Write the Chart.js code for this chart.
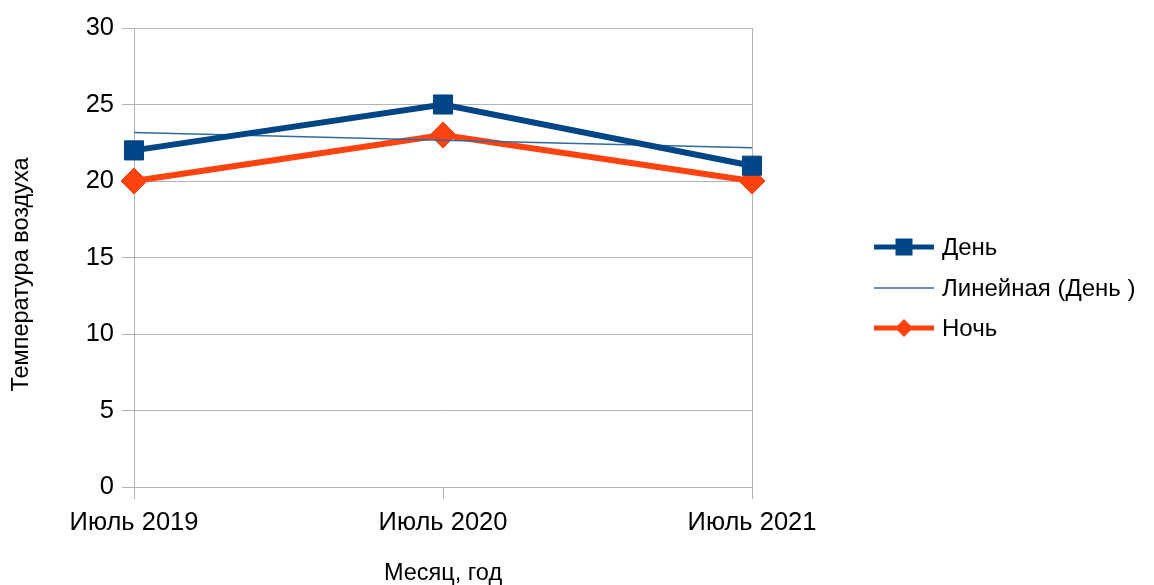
<!DOCTYPE html>
<html>
<head>
<meta charset="utf-8">
<title>Температура воздуха</title>
<script src="https://cdn.jsdelivr.net/npm/chart.js@4/dist/chart.umd.min.js"></script>
<style>
  html, body { margin: 0; padding: 0; background: #fff; }
</style>
</head>
<body>
<canvas id="myChart" width="1154" height="585"></canvas>
<script>
// Данные
const months = ['Июль 2019', 'Июль 2020', 'Июль 2021'];
const dayTemp = [22, 25, 21];
const nightTemp = [20, 23, 20];
const dayTrend = [23.17, 22.67, 22.17]; // линейная линия тренда (День)
const yTicks = [0, 5, 10, 15, 20, 25, 30];

const FONT = 'Liberation Sans, Arial, sans-serif';
const GRID = '#b3b3b3';

// Подпись оси Y: центрирована по высоте всей диаграммы, а не области графика
const yAxisTitle = {
  id: 'yAxisTitle',
  afterDraw(chart) {
    const ctx = chart.ctx;
    ctx.save();
    ctx.translate(22, chart.height / 2 - 18);
    ctx.rotate(-Math.PI / 2);
    ctx.fillStyle = '#000';
    ctx.font = '23.5px ' + FONT;
    ctx.textAlign = 'center';
    ctx.textBaseline = 'middle';
    ctx.fillText('Температура воздуха', 0, 0);
    ctx.restore();
  }
};

// Легенда справа: линия + маркер, как в офисных диаграммах
const sideLegend = {
  id: 'sideLegend',
  afterDraw(chart) {
    const ctx = chart.ctx;
    const area = chart.chartArea;
    const x0 = area.right + 122, x1 = area.right + 182, tx = area.right + 190;
    const rows = [247, 288, 328];
    ctx.save();
    chart.data.datasets.forEach((ds, i) => {
      const y = rows[i];
      ctx.strokeStyle = ds.borderColor;
      ctx.lineWidth = ds.legendLine;
      ctx.beginPath();
      ctx.moveTo(x0, y);
      ctx.lineTo(x1, y);
      ctx.stroke();
      const cx = (x0 + x1) / 2;
      ctx.fillStyle = ds.borderColor;
      if (ds.pointStyle === 'rect') {
        ctx.fillRect(cx - 8.5, y - 8.5, 17, 17);
      } else if (ds.pointStyle === 'rectRot') {
        ctx.beginPath();
        ctx.moveTo(cx, y - 9);
        ctx.lineTo(cx + 9, y);
        ctx.lineTo(cx, y + 9);
        ctx.lineTo(cx - 9, y);
        ctx.closePath();
        ctx.fill();
      }
      ctx.fillStyle = '#000';
      ctx.font = '24px ' + FONT;
      ctx.textBaseline = 'middle';
      ctx.textAlign = 'left';
      ctx.fillText(ds.label, tx, y + 1);
    });
    ctx.restore();
  }
};

const ctx = document.getElementById('myChart').getContext('2d');
const myChart = new Chart(ctx, {
  type: 'line',
  data: {
    labels: months,
    datasets: [{
      label: 'День',
      data: dayTemp,
      borderColor: '#004586',
      backgroundColor: '#004586',
      borderWidth: 6,
      legendLine: 5,
      pointStyle: 'rect',
      pointRadius: 13.5,
      pointBorderWidth: 1,
      pointBorderColor: '#004586',
      pointBackgroundColor: '#004586',
      tension: 0
    }, {
      label: 'Линейная (День )',
      data: dayTrend,
      borderColor: '#2f6aa3',
      borderWidth: 1.5,
      legendLine: 1.5,
      pointRadius: 0,
      tension: 0
    }, {
      label: 'Ночь',
      data: nightTemp,
      borderColor: '#ff420e',
      backgroundColor: '#ff420e',
      borderWidth: 6,
      legendLine: 5,
      pointStyle: 'rectRot',
      pointRadius: 13,
      pointBorderWidth: 1,
      pointBorderColor: '#ff420e',
      pointBackgroundColor: '#ff420e',
      tension: 0
    }]
  },
  options: {
    responsive: false,
    animation: false,
    events: [],
    layout: {
      padding: { top: 28, right: 402, left: 0, bottom: 0 }
    },
    scales: {
      x: {
        offset: false,
        afterFit: (scale) => { scale.height = 98; },
        grid: {
          // внутренние вертикальные линии не рисуем, только рамку и засечки
          color: (c) => (c.index === 0 || c.index === months.length - 1) ? GRID : 'rgba(0,0,0,0)',
          tickColor: GRID,
          lineWidth: 1,
          tickLength: 12
        },
        border: { color: GRID },
        ticks: {
          color: '#000',
          padding: 9,
          maxRotation: 0,
          font: { size: 25.5, family: FONT }
        },
        title: {
          display: true,
          text: 'Месяц, год',
          color: '#000',
          padding: { top: 4, bottom: 0 },
          font: { size: 23.5, family: FONT, lineHeight: 1 }
        }
      },
      y: {
        min: yTicks[0],
        max: yTicks[yTicks.length - 1],
        afterFit: (scale) => { scale.width = 134; },
        afterBuildTicks: (scale) => { scale.ticks = yTicks.map(v => ({ value: v })); },
        grid: { color: GRID, lineWidth: 1, tickLength: 12 },
        border: { color: GRID },
        ticks: {
          color: '#000',
          padding: 8,
          font: { size: 25.5, family: FONT }
        },
        title: { display: false }
      }
    },
    plugins: {
      legend: { display: false },
      tooltip: { enabled: false }
    }
  },
  plugins: [sideLegend, yAxisTitle]
});
</script>
</body>
</html>
